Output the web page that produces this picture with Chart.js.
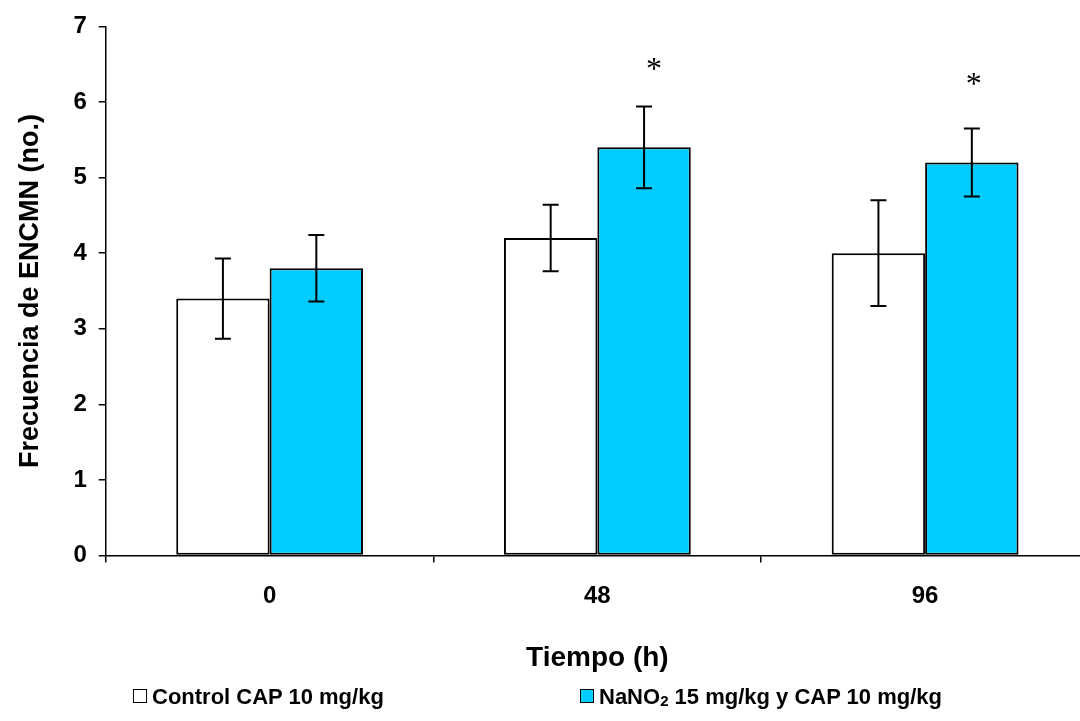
<!DOCTYPE html>
<html>
<head>
<meta charset="utf-8">
<script src="https://cdn.jsdelivr.net/npm/chart.js@4"></script>
<style>
  html, body { margin: 0; padding: 0; background: #fff; overflow: hidden; }
  #wrap { position: relative; width: 1092px; height: 721px; }
  #legend { position: absolute; left: 0; top: 684px; width: 1080px; font: bold 22px "Liberation Sans", Arial, sans-serif; color: #000; }
  .item { position: absolute; top: 0; white-space: nowrap; line-height: 26px; }
  .box { display: inline-block; width: 12px; height: 12px; border: 1.5px solid #000; margin-right: 5px; vertical-align: 1px; }
  sub { font-size: 15px; vertical-align: -2px; line-height: 0; }
</style>
</head>
<body>
<div id="wrap">
  <canvas id="myChart"></canvas>
  <div id="legend">
    <div class="item" style="left:133px"><span class="box" style="background:#fff"></span>Control CAP 10 mg/kg</div>
    <div class="item" style="left:580px"><span class="box" style="background:#00CCFF"></span>NaNO<sub>2</sub> 15 mg/kg y CAP 10 mg/kg</div>
  </div>
</div>
<script>
// data
const hours = ['0', '48', '96'];
const control = [3.4, 4.2, 4.0];
const controlErr = [0.53, 0.44, 0.70];
const nitrite = [3.8, 5.4, 5.2];
const nitriteErr = [0.44, 0.54, 0.45];
const nitriteStar = [null, 6.5, 6.3];
const yTicks = [0, 1, 2, 3, 4, 5, 6, 7];

const errors = [controlErr, nitriteErr];
const stars = [null, nitriteStar];
const FONT = '"Liberation Sans", Arial, sans-serif';

// error bars drawn over each bar
const errorBars = {
  id: 'errorBars',
  afterDatasetsDraw(chart) {
    const ctx = chart.ctx;
    const y = chart.scales.y;
    ctx.save();
    ctx.strokeStyle = '#000';
    ctx.lineWidth = 2;
    chart.data.datasets.forEach((ds, i) => {
      const meta = chart.getDatasetMeta(i);
      meta.data.forEach((bar, j) => {
        const v = ds.data[j];
        const e = errors[i][j];
        const top = y.getPixelForValue(v + e);
        const bot = y.getPixelForValue(v - e);
        ctx.beginPath();
        ctx.moveTo(bar.x, top); ctx.lineTo(bar.x, bot);
        ctx.moveTo(bar.x - 8, top); ctx.lineTo(bar.x + 8, top);
        ctx.moveTo(bar.x - 8, bot); ctx.lineTo(bar.x + 8, bot);
        ctx.stroke();
      });
    });
    // significance marks
    ctx.fillStyle = '#000';
    ctx.font = '32px "Liberation Serif", "Times New Roman", serif';
    ctx.textAlign = 'center';
    ctx.textBaseline = 'middle';
    stars.forEach((s, i) => {
      if (!s) return;
      const meta = chart.getDatasetMeta(i);
      s.forEach((v, j) => {
        if (v == null) return;
        const shift = j === 1 ? 10 : 2;
        ctx.fillText('*', meta.data[j].x + shift, y.getPixelForValue(v) + 6);
      });
    });
    ctx.restore();
  }
};

const data = {
  labels: hours,
  datasets: [{
    label: 'Control CAP 10 mg/kg',
    data: control,
    backgroundColor: '#ffffff',
    borderColor: '#000',
    borderWidth: 2,
    borderSkipped: false
  },
  {
    label: 'NaNO2 15 mg/kg y CAP 10 mg/kg',
    data: nitrite,
    backgroundColor: '#00CCFF',
    borderColor: '#000',
    borderWidth: 2,
    borderSkipped: false
  }]
};

const config = {
  type: 'bar',
  data,
  plugins: [errorBars],
  options: {
    responsive: true,
    maintainAspectRatio: false,
    animation: false,
    layout: { padding: { top: 14, right: 3, left: 14, bottom: 46 } },
    plugins: {
      legend: { display: false },
      tooltip: { enabled: false }
    },
    datasets: {
      bar: { barPercentage: 1, categoryPercentage: 0.57 }
    },
    scales: {
      x: {
        offset: true,
        grid: { display: true, offset: true, drawOnChartArea: false, drawTicks: true, tickLength: 7, color: '#000', lineWidth: 1.5 },
        border: { display: true, color: '#000', width: 1.5 },
        ticks: { color: '#000', padding: 19, font: { family: FONT, size: 24, weight: 'bold' } },
        title: { display: true, text: 'Tiempo (h)', color: '#000', padding: { top: 12, bottom: 0 }, font: { family: FONT, size: 28, weight: 'bold' } }
      },
      y: {
        min: 0,
        max: 7,
        afterBuildTicks(scale) { scale.ticks = yTicks.map(v => ({ value: v })); },
        grid: { display: true, drawOnChartArea: false, drawTicks: true, tickLength: 7, color: '#000', lineWidth: 1.5 },
        border: { display: true, color: '#000', width: 1.5 },
        ticks: { color: '#000', padding: 12, font: { family: FONT, size: 24, weight: 'bold' } },
        title: { display: true, text: 'Frecuencia de ENCMN (no.)', color: '#000', padding: { top: 0, bottom: 15 }, font: { family: FONT, size: 27, weight: 'bold' } }
      }
    }
  }
};

const myChart = new Chart(document.getElementById('myChart'), config);
</script>
</body>
</html>
